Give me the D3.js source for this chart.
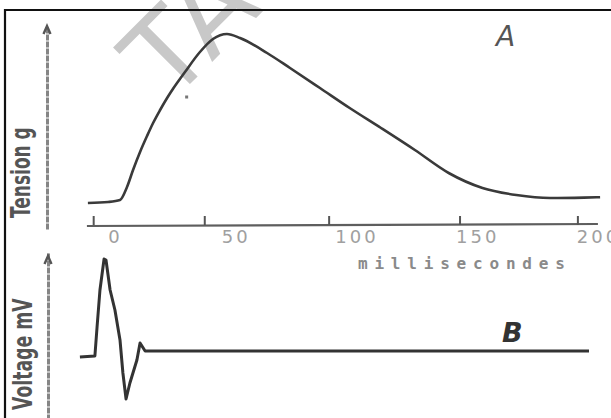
<!DOCTYPE html>
<html>
<head>
<meta charset="utf-8">
<script src="https://cdn.jsdelivr.net/npm/d3@7"></script>
<style>
  html, body { margin: 0; padding: 0; background: #fff; }
  svg { display: block; }
</style>
</head>
<body>
<svg id="chart" width="611" height="418"></svg>
<script>
// ---- data ----
const tensionMs = [-10.4, -2, 2.9, 5.8, 8.3, 11.2, 14.1, 16.6, 19.5, 22.4, 24.8, 27.7, 29.8, 36, 41.4, 47.2, 52.6, 63.8, 73.3, 85.7, 98, 111, 125, 139, 153, 167, 181, 195, 201.7];
const tensionG  = [13.5, 14, 15, 21.5, 30, 39, 47, 53.5, 60, 66, 70.5, 75.5, 79, 89, 95.5, 98, 96, 88.5, 81, 71, 61, 51, 40, 28.5, 21, 17.5, 16, 16.2, 16.4];

const voltageMs = [-13.7, -7.5, -6.6, -5.4, -3.7, -2.9, -1.2, 0.8, 2.9, 4.1, 5.4, 7.0, 9.9, 11.2, 13.3, 197.1];
const voltageMv = [-0.1, -0.08, 0.5, 1.24, 1.86, 1.84, 1.24, 0.84, 0.24, -0.42, -0.94, -0.62, -0.16, 0.18, 0.02, 0.02];

const xTickLabels = [0, 50, 100, 150, 200];
const xTickMarks  = [-8, 38, 89.5, 143.7, 192.5];
const xAxisExtent = [-10.8, 200.8];

const tensionTitle = "Tension g";
const voltageTitle = "Voltage mV";
const xTitle = "millisecondes";
const panelLabels = ["A", "B"];
const watermark = "TA";

// ---- scales ----
const x  = d3.scaleLinear().domain([0, 200]).range([113, 596]);
const yT = d3.scaleLinear().domain([0, 100]).range([230, 30]);
const yV = d3.scaleLinear().domain([-1, 2]).range([402, 252]);

const svg = d3.select("#chart");
svg.append("rect").attr("width", 611).attr("height", 418).attr("fill", "#fff");

// watermark (behind everything)
svg.append("text")
  .attr("transform", "translate(170,104) rotate(-45)")
  .attr("font-family", "DejaVu Sans")
  .attr("font-size", 110)
  .attr("fill", "#c8c8c8")
  .text(watermark);

// frame
svg.append("path").attr("d", "M5,419 V10 H612")
  .attr("fill", "none").attr("stroke", "#111").attr("stroke-width", 2.2);

// vertical axes (no ticks) drawn with d3 axes
const axT = svg.append("g").attr("transform", "translate(47,0)")
  .call(d3.axisLeft(d3.scaleLinear().domain([0, 1]).range([229, 26])).ticks(0).tickSizeOuter(0));
const axV = svg.append("g").attr("transform", "translate(48,0)")
  .call(d3.axisLeft(d3.scaleLinear().domain([0, 1]).range([420, 253])).ticks(0).tickSizeOuter(0));
[axT, axV].forEach(g => g.select(".domain")
  .attr("stroke", "#858585").attr("stroke-width", 3).attr("stroke-dasharray", "6,1"));
// small arrowheads
[[47, 26], [48, 256]].forEach(([ax, ay]) => {
  svg.append("path").attr("d", `M${ax - 3.5},${ay + 8} L${ax},${ay} L${ax + 3.5},${ay + 8}`)
    .attr("fill", "none").attr("stroke", "#555").attr("stroke-width", 2.4);
});

// x axis line
const xAxisY = 225;
svg.append("line")
  .attr("x1", x(xAxisExtent[0])).attr("x2", x(xAxisExtent[1]))
  .attr("y1", xAxisY + 1).attr("y2", xAxisY - 1)
  .attr("stroke", "#5e5e5e").attr("stroke-width", 2.2);
// tick marks (above the line)
svg.selectAll(".tm").data(xTickMarks).enter().append("line")
  .attr("x1", d => x(d)).attr("x2", d => x(d))
  .attr("y1", xAxisY - 9).attr("y2", xAxisY)
  .attr("stroke", "#555").attr("stroke-width", 2);

// tick labels through d3 axis
const xl = svg.append("g").attr("transform", `translate(2,${xAxisY})`)
  .call(d3.axisBottom(x).tickValues(xTickLabels).tickSize(0).tickPadding(5));
xl.select(".domain").remove();
xl.selectAll("text")
  .attr("font-family", "DejaVu Sans").attr("font-size", 18)
  .attr("letter-spacing", "3px")
  .attr("fill", "#a0a0a0");

// x title
svg.append("text")
  .attr("x", 358).attr("y", 269)
  .attr("font-family", "DejaVu Sans Mono").attr("font-weight", "bold")
  .attr("font-size", 16).attr("letter-spacing", "6.8px")
  .attr("fill", "#8a8a8a")
  .text(xTitle);

// y titles (rotated, condensed)
function yTitle(txt, cx, yBottom, sx) {
  svg.append("text")
    .attr("transform", `translate(${cx},${yBottom}) rotate(-90) scale(${sx},1)`)
    .attr("font-family", "DejaVu Sans").attr("font-weight", "bold")
    .attr("font-size", 27).attr("fill", "#555")
    .attr("dy", "0.36em")
    .text(txt);
}
yTitle(tensionTitle, 20, 218, 0.63);
yTitle(voltageTitle, 22, 410, 0.64);

// curves
const lineT = d3.line().x((d, i) => x(tensionMs[i])).y(d => yT(d)).curve(d3.curveMonotoneX);
svg.append("path").datum(tensionG)
  .attr("d", lineT).attr("fill", "none")
  .attr("stroke", "#3a3a3a").attr("stroke-width", 2.6).attr("stroke-linejoin", "round");

const lineV = d3.line().x((d, i) => x(voltageMs[i])).y(d => yV(d));
svg.append("path").datum(voltageMv)
  .attr("d", lineV).attr("fill", "none")
  .attr("stroke", "#333").attr("stroke-width", 3).attr("stroke-linejoin", "round");

// small speck near the rising curve
svg.append("rect").attr("x", x(30.5) - 1.5).attr("y", yT(66.5) - 1.5)
  .attr("width", 3).attr("height", 3).attr("fill", "#777");

// panel letters
svg.append("text").attr("x", 496).attr("y", 46)
  .attr("font-family", "DejaVu Sans").attr("font-style", "italic")
  .attr("font-size", 28).attr("fill", "#555")
  .text(panelLabels[0]);
svg.append("text").attr("x", 502).attr("y", 342)
  .attr("font-family", "DejaVu Sans").attr("font-style", "italic").attr("font-weight", "bold")
  .attr("font-size", 27).attr("fill", "#333")
  .text(panelLabels[1]);
</script>
</body>
</html>
